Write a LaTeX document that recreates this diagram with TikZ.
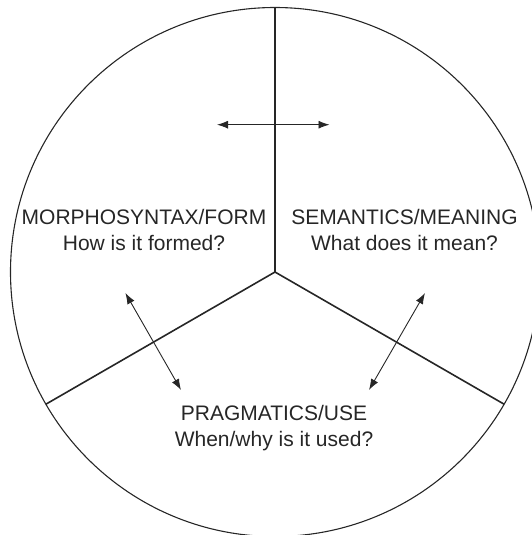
\documentclass[tikz,border=0pt]{standalone}
\usepackage{fontspec}
\setmainfont{Liberation Sans}
\usetikzlibrary{arrows.meta}
\begin{document}
\begin{tikzpicture}[x=1pt,y=-1pt,
  divider/.style={line width=1.6pt, draw=black!85},
  rim/.style={line width=1.1pt, draw=black!85},
  link/.style={line width=0.9pt, draw=black!85, {Latex[length=11pt,width=8pt]}-{Latex[length=11pt,width=8pt]}},
  lbl/.style={align=center, font=\fontsize{21}{26}\selectfont, text=black!85, inner sep=0pt}]
\useasboundingbox (0,0) rectangle (532,535);
\coordinate (c) at (275,272);
\draw[rim] (c) circle[radius=264.5];
\coordinate (top) at (275,7.5);
\coordinate (left) at (45.9,404.2);
\coordinate (right) at (504.1,404.2);
\draw[divider] (top) -- (c);
\draw[divider] (left) -- (c) -- (right);
% labels (base anchor = baseline of last line)
\node[lbl, anchor=base] (form) at (144,250) {MORPHOSYNTAX/FORM\\How is it formed?};
\node[lbl, anchor=base] (mean) at (404.5,250) {SEMANTICS/MEANING\\What does it mean?};
\node[lbl, anchor=base] (use) at (274,446.5) {PRAGMATICS/USE\\When/why is it used?};
% arrows
\coordinate (tl) at (217,124.7);
\coordinate (tr) at (329.5,124.7);
\coordinate (la) at (125.4,293);
\coordinate (lb) at (181,390);
\coordinate (ra) at (425,293);
\coordinate (rb) at (369,390);
\draw[link] (tl) -- (tr);
\draw[link] (la) -- (lb);
\draw[link] (ra) -- (rb);
\end{tikzpicture}
\end{document}
